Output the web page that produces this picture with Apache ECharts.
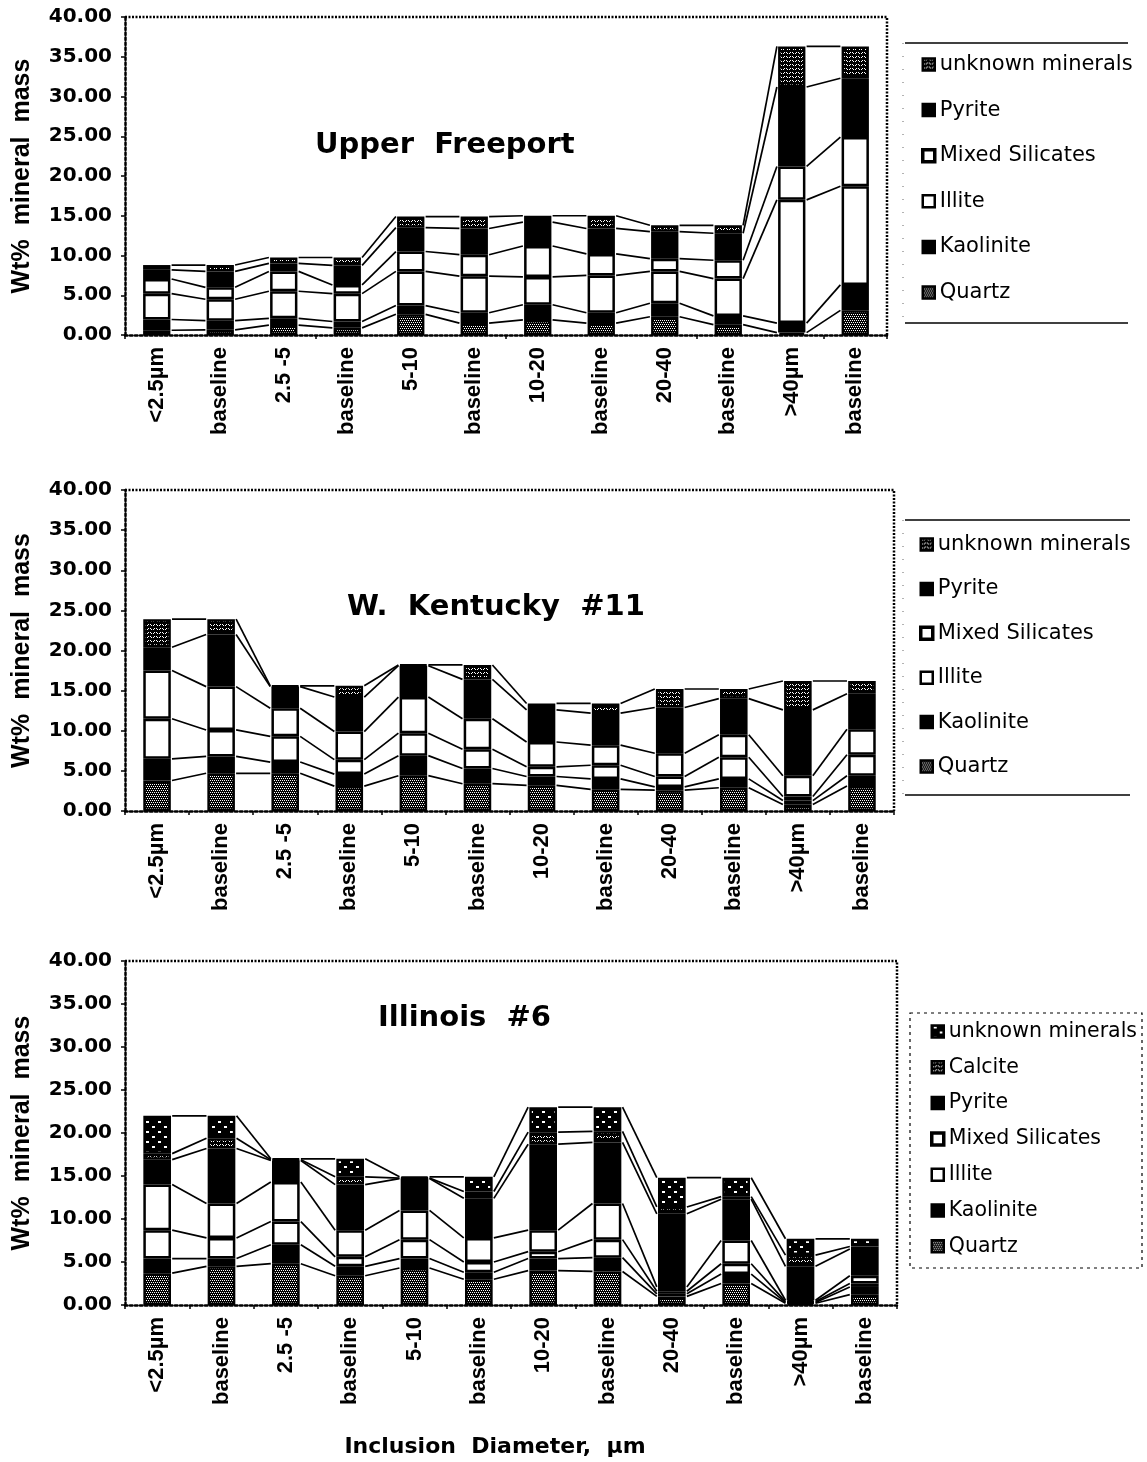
<!DOCTYPE html>
<html><head><meta charset="utf-8">
<script src="https://cdn.jsdelivr.net/npm/echarts@6/dist/echarts.min.js"></script>
<style>html,body{margin:0;padding:0;background:#fff}#c{width:1147px;height:1462px}</style>
</head><body><div id="c"></div><script>
// ---------- data ----------
const categories = ['<2.5µm','baseline','2.5 -5','baseline','5-10','baseline','10-20','baseline','20-40','baseline','>40µm','baseline'];
const yAxisMin = 0, yAxisMax = 40, yAxisStep = 5;
const chartTitles = ['Upper  Freeport', 'W.  Kentucky  #11', 'Illinois  #6'];
const yAxisTitle = 'Wt%  mineral  mass';
const xAxisTitle = 'Inclusion  Diameter,  µm';
const minerals6 = ['Quartz','Kaolinite','Illite','Mixed Silicates','Pyrite','unknown minerals'];
const minerals7 = ['Quartz','Kaolinite','Illite','Mixed Silicates','Pyrite','Calcite','unknown minerals'];

// Upper Freeport
const ufQuartz    = [0.6, 0.65, 1.25, 0.9, 2.6, 1.5, 1.9, 1.5, 2.3, 1.3, 0.3, 3.1];
const ufKaolinite = [1.35, 1.15, 0.85, 0.8, 1.1, 1.3, 1.9, 1.3, 1.7, 1.1, 1.2, 3.2];
const ufIllite    = [3.25, 2.7, 3.4, 3.5, 4.3, 4.6, 3.5, 4.7, 4.0, 4.7, 15.5, 12.4];
const ufMixed     = [1.85, 1.5, 2.5, 1.1, 2.5, 2.7, 3.9, 2.7, 1.6, 2.3, 4.2, 6.2];
const ufPyrite    = [1.15, 2.0, 1.0, 2.45, 3.0, 3.3, 3.0, 3.2, 3.4, 3.4, 10.0, 7.4];
const ufUnknown   = [0.6, 0.8, 0.75, 1.0, 1.4, 1.5, 0.8, 1.6, 0.8, 1.0, 5.1, 4.0];

// W. Kentucky #11
const wkQuartz    = [3.8, 4.7, 4.7, 3.1, 4.4, 3.4, 3.2, 2.7, 2.6, 2.9, 0.8, 3.1];
const wkKaolinite = [2.7, 2.1, 1.4, 1.5, 2.5, 1.9, 1.1, 1.3, 0.4, 1.1, 0.5, 1.3];
const wkIllite    = [5.0, 3.3, 3.2, 1.8, 2.8, 2.4, 1.2, 1.7, 1.3, 2.7, 0.5, 2.6];
const wkMixed     = [6.0, 5.4, 3.5, 3.5, 4.5, 3.8, 3.1, 2.5, 2.9, 2.8, 2.6, 3.2];
const wkPyrite    = [2.9, 6.5, 2.7, 4.3, 3.9, 4.9, 4.0, 4.0, 5.7, 4.5, 8.2, 4.4];
const wkUnknown   = [3.5, 1.9, 0.1, 1.4, 0.1, 1.8, 0.8, 1.2, 2.3, 1.2, 3.6, 1.6];

// Illinois #6
const ilQuartz    = [3.7, 4.5, 4.8, 3.4, 4.3, 3.0, 4.0, 3.9, 1.0, 2.5, 0.2, 1.2];
const ilKaolinite = [1.7, 0.9, 2.2, 1.1, 1.1, 0.8, 1.4, 1.6, 0.3, 1.1, 0.1, 0.9];
const ilIllite    = [3.3, 2.4, 2.7, 1.1, 2.2, 1.2, 0.8, 2.1, 0.3, 1.2, 0.1, 0.4];
const ilMixed     = [5.3, 4.0, 4.6, 3.1, 3.4, 2.8, 2.5, 4.2, 0.5, 2.7, 0.15, 0.9];
const ilPyrite    = [2.9, 6.4, 2.5, 5.3, 3.7, 4.6, 10.0, 7.1, 8.5, 4.8, 3.95, 3.1];
const ilCalcite   = [0.7, 1.2, 0.1, 0.9, 0.05, 0.8, 1.4, 1.3, 0.8, 0.3, 1.3, 0.3];
const ilUnknown   = [4.4, 2.6, 0.1, 2.1, 0.15, 1.7, 2.9, 2.8, 3.4, 2.2, 1.9, 0.9];

// ---------- fills ----------
function makePattern(w, h, dots) {
  const c = document.createElement('canvas');
  c.width = w; c.height = h;
  const ctx = c.getContext('2d');
  ctx.fillStyle = '#000'; ctx.fillRect(0, 0, w, h);
  ctx.fillStyle = '#fff';
  dots.forEach(d => ctx.fillRect(d[0], d[1], d[2], d[3]));
  return { image: c, repeat: 'repeat' };
}
const fineStipple = makePattern(4, 4, [[0,0,1,1],[2,0,1,1],[1,2,1,1],[3,2,1,1]]);
const wavyStipple = makePattern(6, 4, [[0,0,1,1],[1,1,1,1],[3,1,1,1],[4,0,1,1]]);
const bigDots = makePattern(12, 10, [[2,1,3,2],[8,6,3,2]]);

const BAR_RATIO = 0.43;

const charts = [
  { names: minerals6, values: [ufQuartz, ufKaolinite, ufIllite, ufMixed, ufPyrite, ufUnknown],
    fills: [fineStipple, '#000', '#fff', '#fff', '#000', wavyStipple] },
  { names: minerals6, values: [wkQuartz, wkKaolinite, wkIllite, wkMixed, wkPyrite, wkUnknown],
    fills: [fineStipple, '#000', '#fff', '#fff', '#000', wavyStipple] },
  { names: minerals7, values: [ilQuartz, ilKaolinite, ilIllite, ilMixed, ilPyrite, ilCalcite, ilUnknown],
    fills: [fineStipple, '#000', '#fff', '#fff', '#000', wavyStipple, bigDots] }
];

// ---------- layout ----------
const layout = [
  { top: 17, height: 318, right: 887, titleLeft: 315, titleTop: 131,
    legendLeft: 921, legendTop: 54, legendGap: 24.6, legendFont: 21, box: [905, 43, 1128, 323], boxType: 'lines' },
  { top: 490, height: 321, right: 894, titleLeft: 347, titleTop: 593,
    legendLeft: 919, legendTop: 534, legendGap: 23.4, legendFont: 21, box: [905, 520, 1130, 795], boxType: 'lines' },
  { top: 961, height: 344, right: 897, titleLeft: 930, titleTop: 1004,
    legendLeft: 930, legendTop: 1021, legendGap: 14.8, legendFont: 20.5, box: [910, 1013, 1142, 1268], boxType: 'rect' }
];
layout[2].titleLeft = 378;
const GRID_LEFT = 125;

const grid = [], xAxis = [], yAxis = [], series = [], legend = [], title = [], graphic = [];

function seriesLinesRenderer(n) {
  return function (params, api) {
    const i = api.value(0);
    const band = api.size([1, 0])[0];
    const half = band * BAR_RATIO / 2 + 1.2;
    const children = [];
    for (let k = 0; k < n; k++) {
      const p = api.coord([i, api.value(1 + k)]);
      const q = api.coord([i + 1, api.value(1 + n + k)]);
      children.push({ type: 'line', shape: { x1: p[0] + half, y1: p[1], x2: q[0] - half, y2: q[1] },
        style: { stroke: '#000', lineWidth: 1.7 } });
    }
    return { type: 'group', children };
  };
}

charts.forEach((ch, g) => {
  const L = layout[g];
  grid.push({ left: GRID_LEFT, top: L.top, width: L.right - GRID_LEFT, height: L.height,
    containLabel: false, outerBoundsMode: 'none' });
  xAxis.push({
    type: 'category', gridIndex: g, data: categories,
    axisLine: { show: true, lineStyle: { color: '#000', width: 2.5, type: 'dotted' } },
    axisTick: { show: true, interval: g === 0 ? 2 : 0, length: 4, lineStyle: { color: '#000', width: 1.5 } },
    axisLabel: { interval: 0, rotate: 90, margin: 12, color: '#000', fontFamily: 'Liberation Sans',
      fontWeight: 'bold', fontSize: 22 },
    splitLine: { show: false },
    name: g === 2 ? xAxisTitle : '', nameLocation: 'middle', nameGap: 131,
    nameTextStyle: { fontFamily: 'DejaVu Sans', fontWeight: 'bold', fontSize: 22, color: '#000', padding: [0, 32, 0, 0] }
  });
  yAxis.push({
    type: 'value', gridIndex: g, min: yAxisMin, max: yAxisMax, interval: yAxisStep,
    axisLine: { show: true, lineStyle: { color: '#000', width: 2.5, type: 'dotted' } },
    axisTick: { show: true, length: 4, lineStyle: { color: '#000', width: 1.5 } },
    axisLabel: { margin: 13, color: '#000', fontFamily: 'DejaVu Sans', fontWeight: 'bold', fontSize: 20,
      formatter: v => v.toFixed(2) },
    splitLine: { show: false },
    name: yAxisTitle, nameLocation: 'middle', nameGap: 90,
    nameTextStyle: { fontFamily: 'Liberation Sans', fontWeight: 'bold', fontSize: 25, color: '#000' }
  });
  ch.names.forEach((nm, k) => {
    series.push({
      type: 'bar', name: nm, xAxisIndex: g, yAxisIndex: g, stack: 'stack' + g,
      data: ch.values[k], barWidth: (BAR_RATIO * 100) + '%',
      itemStyle: { color: ch.fills[k], borderColor: '#000', borderWidth: 2.5 },
      emphasis: { disabled: true }, silent: true, animation: false
    });
  });
  // cumulative tops for series lines
  const n = ch.names.length;
  const cum = [];
  for (let i = 0; i < categories.length; i++) {
    let s = 0; const row = [];
    for (let k = 0; k < n; k++) { s += ch.values[k][i]; row.push(+s.toFixed(3)); }
    cum.push(row);
  }
  const lineData = [];
  for (let i = 0; i < categories.length - 1; i++) lineData.push([i].concat(cum[i], cum[i + 1]));
  series.push({
    type: 'custom', xAxisIndex: g, yAxisIndex: g, data: lineData,
    encode: { x: 0, y: 1 }, renderItem: seriesLinesRenderer(n), silent: true, z: 5, animation: false
  });
  // legend (top of stack first)
  const order = ch.names.map((nm, k) => k).reverse();
  legend.push({
    orient: 'vertical', left: L.legendLeft, top: L.legendTop, padding: 0,
    itemWidth: 12, itemHeight: 12, itemGap: L.legendGap, icon: 'rect', selectedMode: false,
    textStyle: { fontFamily: 'DejaVu Sans', fontSize: L.legendFont, lineHeight: L.legendFont, color: '#000' },
    data: order.map(k => ({
      name: ch.names[k],
      itemStyle: { color: ch.fills[k], borderColor: '#000',
        borderWidth: ch.names[k] === 'Mixed Silicates' ? 3.5 : 2.5 }
    }))
  });
  title.push({ text: chartTitles[g], left: L.titleLeft, top: L.titleTop, padding: 0,
    textStyle: { fontFamily: 'DejaVu Sans', fontWeight: 'bold', fontSize: 29, color: '#000' } });
  // plot frame (top & right, dotted)
  graphic.push({ type: 'polyline', silent: true,
    shape: { points: [[GRID_LEFT, L.top], [L.right, L.top], [L.right, L.top + L.height]] },
    style: { stroke: '#000', lineWidth: 2.5, lineDash: [2, 1.5], fill: null } });
  // legend box
  const b = L.box;
  if (L.boxType === 'lines') {
    graphic.push({ type: 'line', silent: true, shape: { x1: b[0], y1: b[1], x2: b[2], y2: b[1] }, style: { stroke: '#000', lineWidth: 1.5 } });
    graphic.push({ type: 'line', silent: true, shape: { x1: b[0], y1: b[3], x2: b[2], y2: b[3] }, style: { stroke: '#000', lineWidth: 1.5 } });
    graphic.push({ type: 'line', silent: true, shape: { x1: b[0] - 2, y1: b[1], x2: b[0] - 2, y2: b[3] }, style: { stroke: '#666', lineWidth: 1, lineDash: [1, 12] } });
  } else {
    graphic.push({ type: 'rect', silent: true, shape: { x: b[0], y: b[1], width: b[2] - b[0], height: b[3] - b[1] },
      style: { stroke: '#000', lineWidth: 1.2, lineDash: [3, 4], fill: null } });
  }
});

const chart = echarts.init(document.getElementById('c'), null, { renderer: 'canvas' });
chart.setOption({
  backgroundColor: '#fff', animation: false,
  title, grid, xAxis, yAxis, series, legend, graphic,
  tooltip: { show: false }
});
</script></body></html>
